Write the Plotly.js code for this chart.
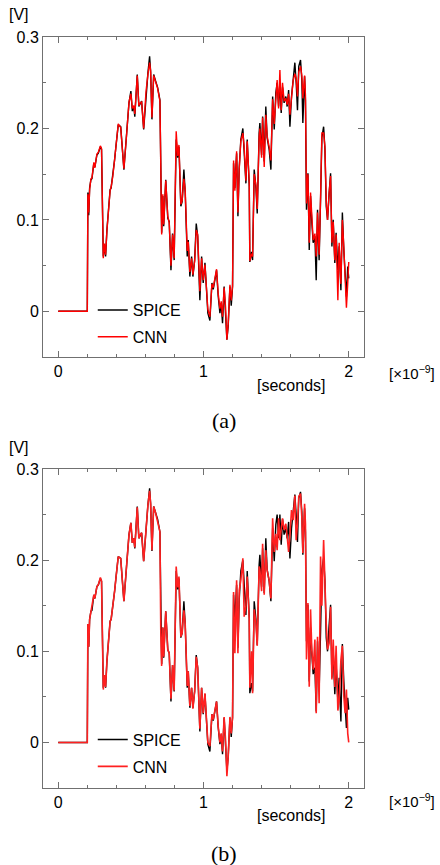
<!DOCTYPE html>
<html>
<head>
<meta charset="utf-8">
<script src="https://cdn.plot.ly/plotly-3.0.1.min.js"></script>
<style>html,body{margin:0;padding:0;background:#fff;}#chart{width:440px;height:865px;}</style>
</head>
<body>
<div id="chart"></div>
<script>
// time in units of 1e-9 s
const time = [
  0, 0.2, 0.204, 0.21, 0.216, 0.225, 0.232, 0.245, 0.252, 0.266,
  0.276, 0.29, 0.298, 0.31, 0.318, 0.326, 0.335, 0.345, 0.357, 0.364,
  0.375, 0.388, 0.397, 0.413, 0.43, 0.452, 0.471, 0.487, 0.5, 0.51,
  0.52, 0.527, 0.544, 0.555, 0.564, 0.574, 0.588, 0.604, 0.617, 0.629,
  0.636, 0.645, 0.657, 0.67, 0.684, 0.7, 0.706, 0.712, 0.72, 0.726,
  0.74, 0.754, 0.764, 0.776, 0.787, 0.798, 0.812, 0.822, 0.831, 0.844,
  0.853, 0.865, 0.874, 0.888, 0.895, 0.906, 0.918, 0.927, 0.939, 0.95,
  0.96, 0.97, 0.975, 0.987, 0.998, 1.01, 1.021, 1.03, 1.044, 1.058,
  1.067, 1.078, 1.09, 1.101, 1.113, 1.122, 1.131, 1.142, 1.152, 1.161,
  1.17, 1.182, 1.191, 1.2, 1.207, 1.216, 1.228, 1.237, 1.246, 1.257,
  1.271, 1.28, 1.292, 1.301, 1.315, 1.319, 1.331, 1.338, 1.349, 1.361,
  1.37, 1.383, 1.388, 1.4, 1.407, 1.418, 1.429, 1.438, 1.452, 1.464,
  1.476, 1.487, 1.498, 1.507, 1.517, 1.526, 1.535, 1.544, 1.555, 1.567,
  1.576, 1.586, 1.595, 1.606, 1.617, 1.629, 1.638, 1.647, 1.656, 1.668,
  1.677, 1.684, 1.696, 1.702, 1.709, 1.719, 1.728, 1.737, 1.746, 1.755,
  1.767, 1.776, 1.785, 1.796, 1.806, 1.815, 1.827, 1.836, 1.845, 1.854,
  1.865, 1.875, 1.884, 1.893, 1.904, 1.913, 1.925, 1.934, 1.946, 1.956,
  1.966, 1.975, 1.984, 1.993, 2.0
];

const spice = [
  0, 0, 0.13, 0.105, 0.135, 0.144, 0.145, 0.162, 0.158, 0.171,
  0.173, 0.18, 0.177, 0.06, 0.072, 0.06, 0.089, 0.111, 0.133, 0.135,
  0.147, 0.166, 0.18, 0.204, 0.202, 0.155, 0.195, 0.228, 0.241, 0.219,
  0.224, 0.213, 0.259, 0.224, 0.227, 0.23, 0.199, 0.239, 0.26, 0.279,
  0.262, 0.21, 0.259, 0.252, 0.245, 0.231, 0.12, 0.086, 0.126, 0.093,
  0.144, 0.102, 0.098, 0.045, 0.085, 0.056, 0.188, 0.168, 0.18, 0.115,
  0.12, 0.155, 0.13, 0.06, 0.078, 0.038, 0.06, 0.038, 0.056, 0.096,
  0.082, 0.034, 0.012, 0.06, 0.031, 0.053, 0.02, -0.002, -0.01, 0.031,
  0.024, 0.034, 0.045, 0.017, -0.002, 0.009, -0.013, 0.027, 0, -0.031,
  -0.016, 0.027, 0.006, 0.027, 0.162, 0.135, 0.173, 0.104, 0.157, 0.188,
  0.2, 0.177, 0.14, 0.188, 0.137, 0.054, 0.065, 0.056, 0.155, 0.135,
  0.107, 0.195, 0.206, 0.171, 0.213, 0.164, 0.224, 0.19, 0.177, 0.155,
  0.235, 0.199, 0.239, 0.25, 0.224, 0.25, 0.217, 0.245, 0.228, 0.235,
  0.224, 0.242, 0.202, 0.235, 0.257, 0.272, 0.25, 0.22, 0.268, 0.275,
  0.253, 0.206, 0.257, 0.231, 0.111, 0.151, 0.067, 0.126, 0.097, 0.075,
  0.082, 0.034, 0.111, 0.056, 0.122, 0.19, 0.202, 0.177, 0.115, 0.1,
  0.129, 0.151, 0.071, 0.1, 0.053, 0.086, 0.045, 0.071, 0.023, 0.108,
  0.067, 0.038, 0.016, 0.049, 0.036
];

const cnnA = [
  0, 0, 0.128, 0.108, 0.133, 0.145, 0.146, 0.163, 0.157, 0.172,
  0.174, 0.181, 0.178, 0.058, 0.074, 0.062, 0.088, 0.112, 0.132, 0.136,
  0.147, 0.166, 0.179, 0.205, 0.201, 0.156, 0.194, 0.229, 0.238, 0.222,
  0.225, 0.216, 0.258, 0.225, 0.228, 0.229, 0.2, 0.24, 0.259, 0.272,
  0.263, 0.212, 0.258, 0.251, 0.244, 0.23, 0.123, 0.084, 0.128, 0.095,
  0.143, 0.104, 0.097, 0.05, 0.084, 0.058, 0.197, 0.17, 0.182, 0.117,
  0.121, 0.145, 0.133, 0.066, 0.076, 0.043, 0.058, 0.04, 0.055, 0.089,
  0.084, 0.037, 0.022, 0.058, 0.034, 0.051, 0.024, 0.002, -0.006, 0.03,
  0.026, 0.036, 0.046, 0.02, 0.003, 0.011, -0.006, 0.026, 0.004, -0.031,
  -0.014, 0.029, 0.012, 0.028, 0.165, 0.132, 0.175, 0.108, 0.156, 0.186,
  0.195, 0.18, 0.143, 0.186, 0.14, 0.055, 0.063, 0.06, 0.15, 0.138,
  0.112, 0.19, 0.2, 0.168, 0.212, 0.158, 0.215, 0.192, 0.18, 0.165,
  0.232, 0.205, 0.235, 0.253, 0.222, 0.264, 0.22, 0.25, 0.23, 0.233,
  0.226, 0.238, 0.215, 0.232, 0.252, 0.26, 0.255, 0.235, 0.262, 0.268,
  0.258, 0.233, 0.258, 0.236, 0.118, 0.15, 0.075, 0.13, 0.1, 0.078,
  0.085, 0.06, 0.108, 0.062, 0.125, 0.195, 0.195, 0.18, 0.12, 0.1,
  0.13, 0.148, 0.075, 0.098, 0.056, 0.084, 0.012, 0.075, 0.03, 0.1,
  0.07, 0.04, 0.004, 0.03, 0.054
];

const cnnB = [
  0, 0, 0.13, 0.105, 0.135, 0.144, 0.146, 0.162, 0.158, 0.171,
  0.173, 0.181, 0.177, 0.058, 0.074, 0.061, 0.089, 0.111, 0.133, 0.135,
  0.147, 0.166, 0.18, 0.204, 0.202, 0.155, 0.195, 0.228, 0.241, 0.219,
  0.224, 0.214, 0.258, 0.224, 0.228, 0.23, 0.199, 0.239, 0.26, 0.276,
  0.262, 0.211, 0.259, 0.252, 0.243, 0.231, 0.12, 0.084, 0.126, 0.094,
  0.144, 0.102, 0.098, 0.048, 0.085, 0.057, 0.193, 0.17, 0.182, 0.116,
  0.12, 0.145, 0.13, 0.062, 0.078, 0.04, 0.06, 0.037, 0.056, 0.094,
  0.082, 0.035, 0.015, 0.06, 0.032, 0.054, 0.021, 0.0, -0.004, 0.031,
  0.025, 0.035, 0.045, 0.018, 0.0, 0.01, -0.01, 0.028, 0.002, -0.037,
  -0.016, 0.028, 0.01, 0.028, 0.165, 0.098, 0.178, 0.098, 0.167, 0.178,
  0.202, 0.138, 0.15, 0.182, 0.135, 0.06, 0.1, 0.054, 0.146, 0.131,
  0.106, 0.193, 0.19, 0.166, 0.218, 0.162, 0.211, 0.189, 0.178, 0.158,
  0.246, 0.209, 0.229, 0.211, 0.246, 0.222, 0.238, 0.246, 0.233, 0.24,
  0.226, 0.209, 0.228, 0.255, 0.244, 0.271, 0.222, 0.24, 0.27, 0.273,
  0.247, 0.208, 0.262, 0.24, 0.091, 0.153, 0.061, 0.146, 0.1, 0.08,
  0.113, 0.032, 0.116, 0.043, 0.204, 0.15, 0.222, 0.159, 0.13, 0.102,
  0.109, 0.149, 0.069, 0.113, 0.061, 0.106, 0.035, 0.046, 0.091, 0.106,
  0.051, 0.032, 0.058, 0.01, 0.0
];

const seriesNames = ['SPICE', 'CNN'];
const panelLabels = ['(a)', '(b)'];
const xTickVals = [0, 1, 2];
const yTickVals = [0, 0.1, 0.2, 0.3];

const sans = 'Liberation Sans, Arial, Helvetica, sans-serif';
const frame = '#707070';

const traces = [
  {x: time, y: spice, xaxis: 'x', yaxis: 'y', name: seriesNames[0], mode: 'lines',
   line: {color: '#000000', width: 1.4}, legend: 'legend', legendgroup: 'a1'},
  {x: time, y: cnnA, xaxis: 'x', yaxis: 'y', name: seriesNames[1], mode: 'lines',
   line: {color: '#ff0000', width: 1.4}, legend: 'legend', legendgroup: 'a2'},
  {x: time, y: spice, xaxis: 'x2', yaxis: 'y2', name: seriesNames[0], mode: 'lines',
   line: {color: '#000000', width: 1.4}, legend: 'legend2', legendgroup: 'b1'},
  {x: time, y: cnnB, xaxis: 'x2', yaxis: 'y2', name: seriesNames[1], mode: 'lines',
   line: {color: '#ff2020', width: 1.6}, legend: 'legend2', legendgroup: 'b2'}
];

function xax(anchor) {
  return {
    anchor: anchor, domain: [0, 1], range: [-0.105, 2.105],
    tickmode: 'array', tickvals: xTickVals, ticktext: xTickVals.map(String),
    ticks: 'inside', ticklen: 6, tickcolor: frame, tickwidth: 1,
    showline: true, linecolor: frame, linewidth: 1, mirror: 'allticks',
    showgrid: false, zeroline: false,
    minor: {dtick: 0.2, tick0: 0, ticks: 'inside', ticklen: 3, tickcolor: frame, showgrid: false},
    tickfont: {family: sans, size: 16, color: '#000'}
  };
}
function yax(anchor, domain) {
  return {
    anchor: anchor, domain: domain, range: [-0.05, 0.3001],
    tickmode: 'array', tickvals: yTickVals, ticktext: yTickVals.map(String),
    ticks: 'inside', ticklen: 6, tickcolor: frame, tickwidth: 1,
    showline: true, linecolor: frame, linewidth: 1, mirror: 'allticks',
    showgrid: false, zeroline: false,
    minor: {dtick: 0.05, tick0: 0, ticks: 'inside', ticklen: 3, tickcolor: frame, showgrid: false},
    tickfont: {family: sans, size: 16, color: '#000'}
  };
}

const legendBase = {
  xanchor: 'left', yanchor: 'top', bgcolor: 'rgba(0,0,0,0)', borderwidth: 0,
  font: {family: sans, size: 16, color: '#000'}, itemwidth: 30,
  traceorder: 'grouped', tracegroupgap: 3
};

function ann(text, x, y, size, family, xanchor) {
  return {text: text, x: x, y: y, xref: 'paper', yref: 'paper', showarrow: false,
          xanchor: xanchor || 'center', yanchor: 'middle', font: {family: family || sans, size: size, color: '#000'}};
}

const layout = {
  width: 440, height: 865,
  margin: {l: 43, r: 76, t: 37, b: 77, pad: 0},
  paper_bgcolor: '#fff', plot_bgcolor: '#fff',
  showlegend: true,
  xaxis: xax('y'),
  yaxis: yax('x', [0.5739, 1]),
  xaxis2: xax('y2'),
  yaxis2: yax('x2', [0, 0.4248]),
  legend: Object.assign({x: 0.155, y: 0.659}, legendBase),
  legend2: Object.assign({x: 0.155, y: 0.087}, legendBase),
  annotations: [
    ann('[V]', -0.0748, 1.0293, 16),
    ann('[V]', -0.0748, 0.454, 16),
    ann('[seconds]', 0.7726, 0.5366, 16),
    ann('[seconds]', 0.7726, -0.036, 16),
    ann('[×10<sup>−9</sup>]', 1.227, 0.553, 15, sans, 'right'),
    ann('[×10<sup>−9</sup>]', 1.227, -0.016, 15, sans, 'right'),
    ann(panelLabels[0], 0.5639, 0.49, 22, 'Liberation Serif, Times New Roman, serif'),
    ann(panelLabels[1], 0.5639, -0.0866, 22, 'Liberation Serif, Times New Roman, serif')
  ]
};

Plotly.newPlot('chart', traces, layout, {staticPlot: true, displayModeBar: false});
</script>
</body>
</html>
